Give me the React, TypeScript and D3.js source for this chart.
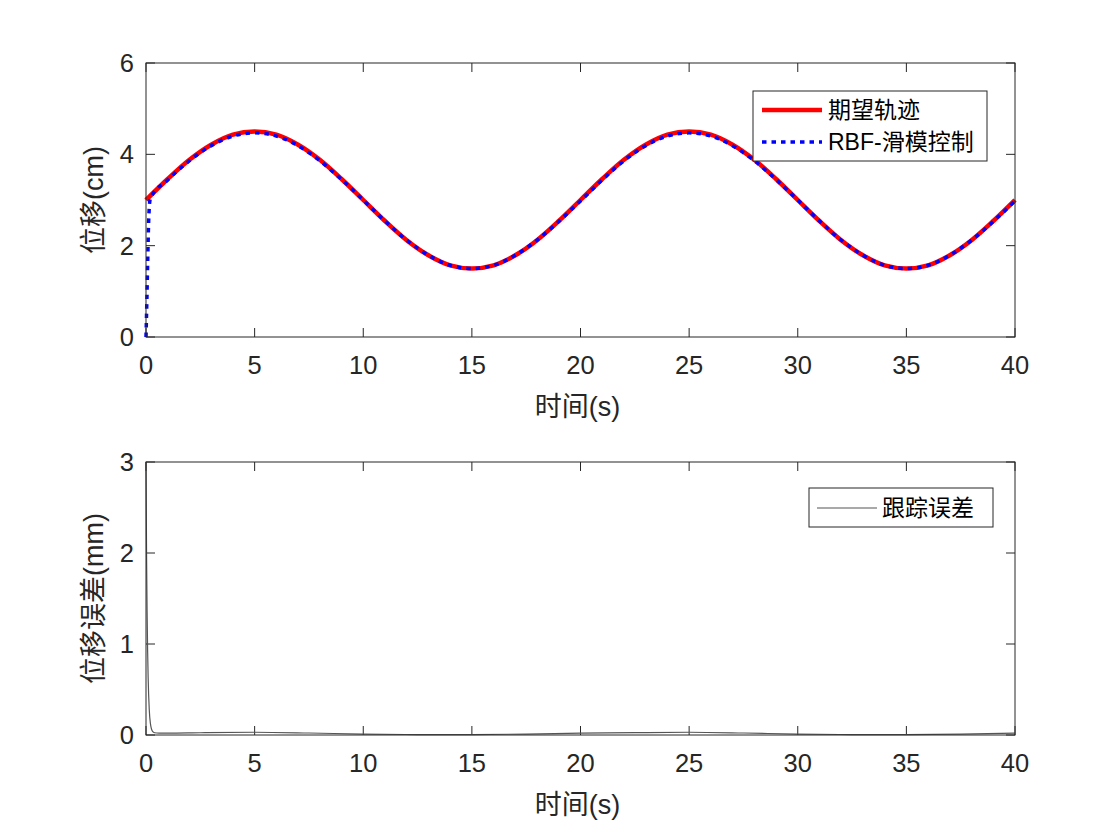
import React from "react";
import * as d3 from "d3";

const W = 1120;
const H = 840;

const xTicks = [0, 5, 10, 15, 20, 25, 30, 35, 40];
const topYTicks = [0, 2, 4, 6];
const botYTicks = [0, 1, 2, 3];

// desired trajectory (cm), sampled every 1 s
const desiredT = [
  0, 1, 2, 3, 4, 5, 6, 7, 8, 9, 10, 11, 12, 13, 14, 15, 16, 17, 18, 19, 20,
  21, 22, 23, 24, 25, 26, 27, 28, 29, 30, 31, 32, 33, 34, 35, 36, 37, 38, 39, 40,
];
const desiredY = [
  3.0, 3.46, 3.88, 4.21, 4.43, 4.5, 4.43, 4.21, 3.88, 3.46, 3.0, 2.54, 2.12,
  1.79, 1.57, 1.5, 1.57, 1.79, 2.12, 2.54, 3.0, 3.46, 3.88, 4.21, 4.43, 4.5,
  4.43, 4.21, 3.88, 3.46, 3.0, 2.54, 2.12, 1.79, 1.57, 1.5, 1.57, 1.79, 2.12,
  2.54, 3.0,
];

// RBF sliding mode control output (cm)
const rbfT = [
  0, 0.04, 0.08, 0.12, 0.16, 0.2, 1, 2, 3, 4, 5, 6, 7, 8, 9, 10, 11, 12, 13,
  14, 15, 16, 17, 18, 19, 20, 21, 22, 23, 24, 25, 26, 27, 28, 29, 30, 31, 32,
  33, 34, 35, 36, 37, 38, 39, 40,
];
const rbfY = [
  0, 0.8, 1.7, 2.5, 2.9, 3.03, 3.44, 3.86, 4.19, 4.4, 4.47, 4.4, 4.19, 3.86,
  3.45, 3.0, 2.54, 2.12, 1.79, 1.57, 1.5, 1.57, 1.79, 2.12, 2.53, 2.98, 3.44,
  3.86, 4.19, 4.4, 4.47, 4.4, 4.19, 3.86, 3.45, 3.0, 2.54, 2.12, 1.79, 1.57,
  1.5, 1.57, 1.79, 2.12, 2.53, 2.98,
];

// tracking error (mm)
const errT = [
  0, 0.025, 0.05, 0.075, 0.1, 0.15, 0.2, 0.3, 0.4, 0.6, 1, 2.5, 5, 7.5, 10,
  12.5, 15, 17.5, 20, 22.5, 25, 27.5, 30, 32.5, 35, 37.5, 40,
];
const errY = [
  3.0, 2.0, 1.37, 0.92, 0.62, 0.28, 0.13, 0.04, 0.025, 0.02, 0.02, 0.025,
  0.03, 0.022, 0.01, 0.005, 0.005, 0.01, 0.02, 0.026, 0.03, 0.022, 0.01,
  0.005, 0.005, 0.01, 0.02,
];

const FONT = "'Liberation Sans', Arial, 'Noto Sans CJK SC', sans-serif";
const AX = "#262626";

const X0 = 146;
const X1 = 1015;

type PanelProps = {
  top: number;
  bottom: number;
  yMax: number;
  yTicks: number[];
  yLabel: string;
  children: React.ReactNode;
};

function Panel({ top, bottom, yMax, yTicks, yLabel, children }: PanelProps) {
  const x = d3.scaleLinear().domain([0, 40]).range([X0, X1]);
  const y = d3.scaleLinear().domain([0, yMax]).range([bottom, top]);
  const tl = 9;
  return (
    <g>
      {xTicks.map((t) => (
        <g key={"x" + t}>
          <line x1={x(t)} x2={x(t)} y1={bottom} y2={bottom - tl} stroke={AX} strokeWidth={1} />
          <line x1={x(t)} x2={x(t)} y1={top} y2={top + tl} stroke={AX} strokeWidth={1} />
          <text x={x(t)} y={bottom + 37} textAnchor="middle" fontSize={25.5} fill={AX} fontFamily={FONT}>
            {t}
          </text>
        </g>
      ))}
      {yTicks.map((t) => (
        <g key={"y" + t}>
          <line x1={X0} x2={X0 + tl} y1={y(t)} y2={y(t)} stroke={AX} strokeWidth={1} />
          <line x1={X1} x2={X1 - tl} y1={y(t)} y2={y(t)} stroke={AX} strokeWidth={1} />
          <text x={X0 - 12} y={y(t) + 9} textAnchor="end" fontSize={25.5} fill={AX} fontFamily={FONT}>
            {t}
          </text>
        </g>
      ))}
      <text x={(X0 + X1) / 2 - 3} y={bottom + 79} textAnchor="middle" fontSize={27} fill={AX} fontFamily={FONT}>
        时间(s)
      </text>
      <text
        transform={`translate(${103}, ${(top + bottom) / 2}) rotate(-90)`}
        textAnchor="middle"
        fontSize={27}
        fill={AX}
        fontFamily={FONT}
      >
        {yLabel}
      </text>
      {children}
      <rect x={X0} y={top} width={X1 - X0} height={bottom - top} fill="none" stroke={AX} strokeWidth={1} />
    </g>
  );
}

export default function App() {
  const x = d3.scaleLinear().domain([0, 40]).range([X0, X1]);
  const yTop = d3.scaleLinear().domain([0, 6]).range([337, 63]);
  const yBot = d3.scaleLinear().domain([0, 3]).range([735, 462]);

  const desired = desiredT.map((t, i) => [t, desiredY[i]] as [number, number]);
  const rbf = rbfT.map((t, i) => [t, rbfY[i]] as [number, number]);
  const err = errT.map((t, i) => [t, errY[i]] as [number, number]);

  const lineTop = d3
    .line<[number, number]>()
    .x((d) => x(d[0]))
    .y((d) => yTop(d[1]))
    .curve(d3.curveMonotoneX);
  const lineBot = d3
    .line<[number, number]>()
    .x((d) => x(d[0]))
    .y((d) => yBot(d[1]))
    .curve(d3.curveMonotoneX);

  return (
    <svg
      width={W}
      height={H}
      style={{ position: "absolute", left: 0, top: 0, background: "#fff" }}
    >
      <rect x={0} y={0} width={W} height={H} fill="#fff" />
      <Panel top={63} bottom={337} yMax={6} yTicks={topYTicks} yLabel="位移(cm)">
        <path d={lineTop(desired) || ""} fill="none" stroke="#ff0000" strokeWidth={4.5} />
        <path
          d={lineTop(rbf) || ""}
          fill="none"
          stroke="#0000ff"
          strokeWidth={3.5}
          strokeDasharray="4.5,5"
        />
        <g>
          <rect x={753} y={91} width={234} height={70} fill="#fff" stroke={AX} strokeWidth={1} />
          <line x1={762} x2={822} y1={110} y2={110} stroke="#ff0000" strokeWidth={4.5} />
          <line x1={762} x2={822} y1={142} y2={142} stroke="#0000ff" strokeWidth={3.5} strokeDasharray="4.5,5" />
          <text x={828} y={118} fontSize={23} fill="#000" fontFamily={FONT}>
            期望轨迹
          </text>
          <text x={828} y={150} fontSize={23} fill="#000" fontFamily={FONT}>
            RBF-滑模控制
          </text>
        </g>
      </Panel>
      <Panel top={462} bottom={735} yMax={3} yTicks={botYTicks} yLabel="位移误差(mm)">
        <path d={lineBot(err) || ""} fill="none" stroke="#555" strokeWidth={1.2} />
        <g>
          <rect x={809} y={488} width={184} height={39} fill="#fff" stroke={AX} strokeWidth={1} />
          <line x1={817} x2={877} y1={508} y2={508} stroke="#555" strokeWidth={1.2} />
          <text x={882} y={516} fontSize={23} fill="#000" fontFamily={FONT}>
            跟踪误差
          </text>
        </g>
      </Panel>
    </svg>
  );
}
